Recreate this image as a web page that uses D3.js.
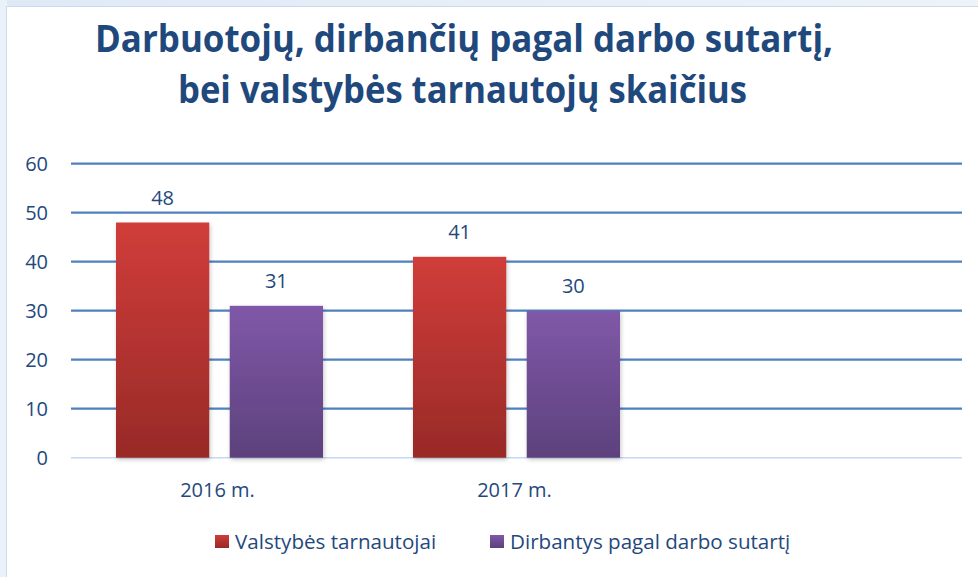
<!DOCTYPE html>
<html>
<head>
<meta charset="utf-8">
<script src="https://cdnjs.cloudflare.com/ajax/libs/d3/7.8.5/d3.min.js"></script>
<style>
  body { margin: 0; background: #fff; }
  text { font-family: "Open Sans", "Noto Sans", sans-serif; }
</style>
</head>
<body>
<svg width="978" height="577"></svg>
<script>
var categories = ["2016 m.", "2017 m.", ""];
var seriesNames = ["Valstybės tarnautojai", "Dirbantys pagal darbo sutartį"];
var valstybes = [48, 41, null];
var dirbantys = [31, 30, null];
var yTicks = [0, 10, 20, 30, 40, 50, 60];
var titleLines = ["Darbuotojų, dirbančių pagal darbo sutartį,", "bei valstybės tarnautojų skaičius"];

var svg = d3.select("svg"),
    width = +svg.attr("width"),
    height = +svg.attr("height");

var margin = {left: 71, right: 16, top: 163.7, bottom: 119.3};
var labelSize = 20;
var ink = "#1f497d";

var defs = svg.append("defs");
var grads = [["gRed", "#d03d3a", "#982a27"], ["gPurple", "#8058a8", "#5c417c"]];
grads.forEach(function (g) {
  var lg = defs.append("linearGradient").attr("id", g[0])
      .attr("x1", 0).attr("y1", 0).attr("x2", 0).attr("y2", 1);
  lg.append("stop").attr("offset", "0%").attr("stop-color", g[1]);
  lg.append("stop").attr("offset", "100%").attr("stop-color", g[2]);
});
var bg = defs.append("linearGradient").attr("id", "gTop")
    .attr("x1", 0).attr("y1", 0).attr("x2", 1).attr("y2", 0);
bg.append("stop").attr("offset", "0%").attr("stop-color", "#dfe9f5");
bg.append("stop").attr("offset", "100%").attr("stop-color", "#eef3f9");
defs.append("filter").attr("id", "shadow")
    .attr("x", "-20%").attr("y", "-10%").attr("width", "140%").attr("height", "120%")
  .append("feDropShadow").attr("dx", 1).attr("dy", 2).attr("stdDeviation", 2)
    .attr("flood-color", "#000").attr("flood-opacity", 0.22);

// frame
svg.append("rect").attr("x", 0).attr("y", 0).attr("width", width).attr("height", 7)
    .attr("fill", "url(#gTop)");
svg.append("rect").attr("x", 0).attr("y", 0).attr("width", 7).attr("height", height)
    .attr("fill", "#eaf1f9");
svg.append("rect").attr("x", 6.5).attr("y", 6.5).attr("width", width).attr("height", height)
    .attr("fill", "#fff").attr("stroke", "#c9dbef");

// title
var titleX = [95, 178], titleLen = [738, 569], titleY = [52, 103];
svg.selectAll(".title")
  .data(titleLines)
  .enter()
  .append("text")
  .attr("class", "title")
  .attr("x", function (d, i) { return titleX[i]; })
  .attr("y", function (d, i) { return titleY[i]; })
  .attr("textLength", function (d, i) { return titleLen[i]; })
  .attr("lengthAdjust", "spacingAndGlyphs")
  .attr("font-size", 38)
  .attr("font-weight", "bold")
  .attr("fill", ink)
  .text(function (d) { return d; });

var x0 = d3.scaleBand()
    .domain(d3.range(categories.length))
    .range([margin.left, width - margin.right])
    .paddingInner(0)
    .paddingOuter(0);

var x1 = d3.scaleBand()
    .domain([0, 1])
    .range([45, x0.bandwidth() - 45])
    .paddingInner(0.18);

var y = d3.scaleLinear()
    .domain([0, 60])
    .range([height - margin.bottom, margin.top]);

// gridlines
svg.append("g")
  .selectAll("line")
  .data(yTicks.filter(function (d) { return d > 0; }))
  .enter()
  .append("line")
  .attr("x1", margin.left).attr("x2", width - margin.right)
  .attr("y1", function (d) { return y(d); })
  .attr("y2", function (d) { return y(d); })
  .attr("stroke", "#4f81bd")
  .attr("stroke-width", 2.2);

svg.append("line")
  .attr("x1", margin.left).attr("x2", width - margin.right)
  .attr("y1", y(0)).attr("y2", y(0))
  .attr("stroke", "#c6d9f1").attr("stroke-width", 1.5);

// y axis
var yAxis = svg.append("g")
  .attr("transform", "translate(" + (margin.left - 23) + ",0)")
  .call(d3.axisLeft(y).tickValues(yTicks).tickSize(0).tickPadding(0));
yAxis.select(".domain").remove();
yAxis.selectAll("text")
  .attr("font-size", labelSize)
  .attr("fill", ink)
  .attr("font-family", "'Open Sans', sans-serif");

// x axis
var xAxis = svg.append("g")
  .attr("transform", "translate(-2," + (y(0) + 25) + ")")
  .call(d3.axisBottom(x0).tickFormat(function (i) { return categories[i]; }).tickSize(0).tickPadding(0));
xAxis.select(".domain").remove();
xAxis.selectAll("text")
  .attr("font-size", labelSize)
  .attr("fill", ink)
  .attr("font-family", "'Open Sans', sans-serif");

// bars
var series = [valstybes, dirbantys];
var fills = ["url(#gRed)", "url(#gPurple)"];
var barData = [];
series.forEach(function (s, si) {
  s.forEach(function (v, ci) {
    if (v !== null) barData.push({c: ci, s: si, v: v});
  });
});

svg.append("g")
  .selectAll("rect")
  .data(barData)
  .enter()
  .append("rect")
  .attr("x", function (d) { return x0(d.c) + x1(d.s); })
  .attr("y", function (d) { return y(d.v); })
  .attr("width", x1.bandwidth())
  .attr("height", function (d) { return y(0) - y(d.v); })
  .attr("fill", function (d) { return fills[d.s]; })
  .attr("filter", "url(#shadow)");

svg.append("g")
  .selectAll("text")
  .data(barData)
  .enter()
  .append("text")
  .attr("x", function (d) { return x0(d.c) + x1(d.s) + x1.bandwidth() / 2; })
  .attr("y", function (d) { return y(d.v) - 17.5; })
  .attr("text-anchor", "middle")
  .attr("font-size", labelSize)
  .attr("fill", ink)
  .text(function (d) { return d.v; });

// legend
var legendX = [215, 490];
var legend = svg.append("g")
  .selectAll("g")
  .data(seriesNames)
  .enter()
  .append("g")
  .attr("transform", function (d, i) { return "translate(" + legendX[i] + ",535)"; });
legend.append("rect")
  .attr("width", 14).attr("height", 13)
  .attr("fill", function (d, i) { return fills[i]; });
legend.append("text")
  .attr("x", 20).attr("y", 13.5)
  .attr("font-size", 20.6)
  .attr("fill", ink)
  .text(function (d) { return d; });
</script>
</body>
</html>
